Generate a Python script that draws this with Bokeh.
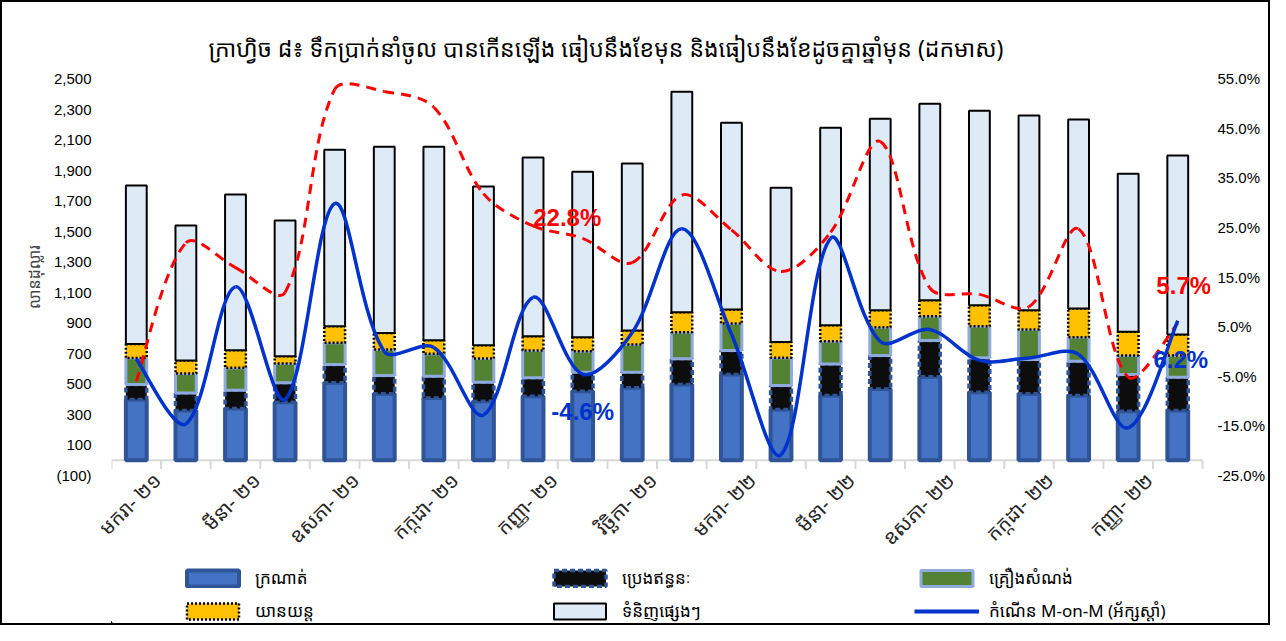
import math
from math import pi
from bokeh.plotting import figure
from bokeh.layouts import column
from bokeh.models import (Range1d, LinearAxis, FixedTicker, CustomJSTickFormatter,
                          Legend, LegendItem, ColumnDataSource, Label)
from bokeh.embed import file_html
from bokeh.resources import INLINE

# ---------------- data ----------------
months = ["មករា- ២១", "កុម្ភៈ- ២១", "មីនា- ២១", "មេសា- ២១", "ឧសភា- ២១", "មិថុនា- ២១",
          "កក្កដា- ២១", "សីហា- ២១", "កញ្ញា- ២១", "តុលា- ២១", "វិច្ឆិកា- ២១", "ធ្នូ- ២១",
          "មករា- ២២", "កុម្ភៈ- ២២", "មីនា- ២២", "មេសា- ២២", "ឧសភា- ២២", "មិថុនា- ២២",
          "កក្កដា- ២២", "សីហា- ២២", "កញ្ញា- ២២", "តុលា- ២២"]

fabric = [397, 325, 339, 380, 507, 435, 408, 387, 419, 452, 474, 496, 561, 332, 424, 467, 546, 445, 435, 424, 321, 325]
fuel = [99, 116, 120, 127, 120, 120, 142, 124, 121, 124, 102, 168, 157, 157, 207, 219, 238, 226, 224, 224, 240, 219]
construction = [174, 127, 146, 126, 142, 170, 147, 155, 178, 138, 182, 174, 177, 182, 148, 185, 159, 207, 197, 157, 125, 142]
vehicles = [92, 85, 115, 48, 109, 109, 89, 87, 94, 91, 91, 131, 92, 104, 105, 111, 105, 137, 126, 188, 155, 137]
others = [1038, 885, 1020, 889, 1156, 1219, 1267, 1039, 1170, 1085, 1094, 1445, 1224, 1010, 1294, 1255, 1287, 1274, 1275, 1238, 1036, 1172]
mom = [-1.5, -14.6, 13.0, -9.7, 29.8, 0.0, 0.8, -12.8, 10.9, -4.6, 3.8, 24.7, 3.5, -20.8, 22.8, 2.0, 4.4, -1.8, -1.3, -0.6, -15.4, 6.2]
yoy = [-6.0, 21.9, 16.9, 11.9, 52.8, 52.4, 49.2, 31.8, 25.3, 22.8, 17.9, 31.5, 24.5, 16.1, 24.0, 42.3, 12.8, 11.5, 9.0, 24.7, -5.2, 5.7]

series_names = ["ក្រណាត់", "ប្រេងឥន្ធនៈ", "គ្រឿងសំណង់", "យានយន្ត", "ទំនិញផ្សេងៗ"]
line_name = "កំណើន M-on-M (អ័ក្សស្តាំ)"
title_text = "ក្រាហ្វិច ៨៖ ទឹកប្រាក់នាំចូល បានកើនឡើង ធៀបនឹងខែមុន និងធៀបនឹងខែដូចគ្នាឆ្នាំមុន (ដកមាស)"
y_title = "លានដុល្លារ"
left_ticks = [-100, 100, 300, 500, 700, 900, 1100, 1300, 1500, 1700, 1900, 2100, 2300, 2500]
right_ticks = [-25, -15, -5, 5, 15, 25, 35, 45, 55]

KH = "Khmer OS, Noto Sans Khmer, Noto Serif Khmer, Khmer OS System, sans-serif"
NUM = "Liberation Sans, Arial, sans-serif"
NUMN = "Liberation Sans Narrow, Arial Narrow, Liberation Sans, sans-serif"

# bar styles: fill, line colour, line width, dash
FILLS = ["#4472C4", "#0D0D0D", "#548235", "#FFC000", "#DEEBF7"]
LINES = ["#2F5597", "#2F5597", "#8FAADC", "#000000", "#000000"]
LWS = [4, 3.5, 3, 2.5, 2]
DASHES = ["solid", "5 3", "solid", "2 2", "solid"]
BLUE = "#0033CC"
RED = "#FF0000"

n = len(months)
x = list(range(n))
stack_keys = ["fabric", "fuel", "construction", "vehicles", "others"]
src = ColumnDataSource(dict(x=x, fabric=fabric, fuel=fuel, construction=construction,
                            vehicles=vehicles, others=others))

W, H1, H2 = 1266, 561, 60
EXTRA = 0.16  # small room right of the last category for its data labels
p = figure(width=W, height=H1, output_backend="svg", toolbar_location=None,
           x_range=Range1d(-0.5, n - 0.5 + EXTRA), y_range=Range1d(-100, 2500),
           min_border_left=109, min_border_right=55, min_border_top=76, min_border_bottom=87)
p.outline_line_color = None
p.xgrid.visible = False
p.ygrid.visible = False
p.background_fill_color = "white"
p.border_fill_color = "white"

# title
p.title.text = title_text
p.title.align = "left"
p.title.offset = 97
p.title.text_font = KH
p.title.text_font_size = "23px"
p.title.text_font_style = "normal"
p.title.text_color = "#000000"
p.title.standoff = 29

# left axis
ya = p.yaxis[0]
ya.ticker = FixedTicker(ticks=left_ticks)
ya.formatter = CustomJSTickFormatter(code="const s = Math.abs(tick).toLocaleString('en-US'); return tick < 0 ? '(' + s + ')' : s;")
ya.axis_line_color = None
ya.major_tick_line_color = None
ya.minor_tick_line_color = None
ya.major_tick_out = 0
ya.major_tick_in = 0
ya.major_label_standoff = 20
ya.major_label_text_font = NUM
ya.major_label_text_font_size = "15px"
ya.major_label_text_color = "#000000"
ya.axis_label = y_title
ya.axis_label_text_font = KH
ya.axis_label_text_font_size = "16px"
ya.axis_label_text_font_style = "normal"
ya.axis_label_standoff = 6

# right axis
p.extra_y_ranges = {"pct": Range1d(-25, 55)}
ra = LinearAxis(y_range_name="pct", ticker=FixedTicker(ticks=right_ticks),
                formatter=CustomJSTickFormatter(code="return tick.toFixed(1) + '%';"))
ra.axis_line_color = None
ra.major_tick_line_color = None
ra.minor_tick_line_color = None
ra.major_tick_out = 0
ra.major_tick_in = 0
ra.major_label_standoff = 7
ra.major_label_text_font = NUM
ra.major_label_text_font_size = "15px"
ra.major_label_text_color = "#000000"
p.add_layout(ra, "right")

# bottom axis (labels every second month, rotated)
shift = 0.42
label_idx = list(range(0, n, 2))
xa = p.xaxis[0]
xa.ticker = FixedTicker(ticks=[i + shift for i in label_idx])
xa.major_label_overrides = {i + shift: months[i] for i in label_idx}
xa.major_label_orientation = pi / 4
xa.axis_line_color = None
xa.major_tick_line_color = None
xa.minor_tick_line_color = None
xa.major_tick_out = 0
xa.major_tick_in = 0
xa.major_label_standoff = 1
xa.major_label_text_font = KH
xa.major_label_text_font_size = "20px"
xa.major_label_text_line_height = 1.0
xa.major_label_text_color = "#262626"

# category axis line at zero with tick marks between categories
p.segment(x0=[-0.5], y0=[0], x1=[n - 0.5], y1=[0], line_color="#D9D9D9", line_width=2)
bx = [i - 0.5 for i in range(n + 1)]
p.segment(x0=bx, y0=[0] * len(bx), x1=bx, y1=[-58] * len(bx), line_color="#D9D9D9", line_width=2)

# stacked bars
bars = p.vbar_stack(stack_keys, x="x", width=0.42, source=src,
                    fill_color=FILLS, line_color=LINES, line_width=LWS, line_dash=DASHES)

# smoothed lines (Bezier through every data point, chord-length weighted tangents)
PX_X = 49.7   # approx pixels per category (only used for tangent weighting)
PX_Y = 4.96   # approx pixels per percent


def bezier_parts(xs, ys):
    m = len(xs)
    sx = [v * PX_X for v in xs]
    sy = [v * PX_Y for v in ys]

    def d(a, b):
        return math.hypot(sx[b] - sx[a], sy[b] - sy[a])

    out = dict(x0=[], y0=[], x1=[], y1=[], cx0=[], cy0=[], cx1=[], cy1=[])
    for i in range(m - 1):
        pm = i - 1 if i > 0 else i
        pp = i + 2 if i + 2 < m else i + 1
        d01, d12, d23 = d(pm, i), d(i, i + 1), d(i + 1, pp)
        f1 = d12 / (d01 + d12) / 3.0 if d01 > 0 else 1 / 6.0
        f2 = d12 / (d12 + d23) / 3.0 if d23 > 0 else 1 / 6.0
        out["x0"].append(xs[i]); out["y0"].append(ys[i])
        out["x1"].append(xs[i + 1]); out["y1"].append(ys[i + 1])
        out["cx0"].append(xs[i] + (xs[i + 1] - xs[pm]) * f1)
        out["cy0"].append(ys[i] + (ys[i + 1] - ys[pm]) * f1)
        out["cx1"].append(xs[i + 1] - (xs[pp] - xs[i]) * f2)
        out["cy1"].append(ys[i + 1] - (ys[pp] - ys[i]) * f2)
    return ColumnDataSource(out)


p.bezier(x0="x0", y0="y0", x1="x1", y1="y1", cx0="cx0", cy0="cy0", cx1="cx1", cy1="cy1",
         source=bezier_parts(x, yoy), y_range_name="pct",
         line_color=RED, line_width=3, line_dash="10 7")
p.bezier(x0="x0", y0="y0", x1="x1", y1="y1", cx0="cx0", cy0="cy0", cx1="cx1", cy1="cy1",
         source=bezier_parts(x, mom), y_range_name="pct",
         line_color=BLUE, line_width=3.5)


# data labels
def add_label(i, vals, dx, dy, color):
    p.add_layout(Label(x=i + dx, y=vals[i] + dy, y_range_name="pct", text=f"{vals[i]:.1f}%",
                       text_color=color, text_font=NUMN, text_font_size="24px",
                       text_font_style="bold", text_align="center", text_baseline="middle"))


add_label(9, yoy, -0.31, 4.2, RED)
add_label(21, yoy, 0.12, 7.6, RED)
add_label(9, mom, 0.0, -7.5, BLUE)
add_label(21, mom, 0.06, -7.8, BLUE)

# ---------------- legend strip (the same series drawn out of view, legend only) ----------------
leg = figure(width=W, height=H2, output_backend="svg", toolbar_location=None,
             x_axis_type=None, y_axis_type=None,
             x_range=Range1d(1000, 1001), y_range=Range1d(100000, 100001), min_border=0)
leg.outline_line_color = None
leg.xgrid.visible = False
leg.ygrid.visible = False
leg.background_fill_color = "white"
leg.border_fill_color = "white"

leg_src = ColumnDataSource(dict(x=x, fabric=fabric, fuel=fuel, construction=construction,
                                vehicles=vehicles, others=others, mom=mom))
proxies = list(leg.vbar_stack(stack_keys, x="x", width=0.42, source=leg_src,
                              fill_color=FILLS, line_color=LINES, line_width=LWS, line_dash=DASHES))
proxies.append(leg.line(x="x", y="mom", source=leg_src, line_color=BLUE, line_width=4))
names = series_names + [line_name]
items = [LegendItem(label=names[k], renderers=[proxies[k]]) for k in range(6)]
legend = Legend(items=items, location=(69, 1), orientation="horizontal", ncols=3,
                glyph_width=65, glyph_height=20, label_standoff=10, label_width=282,
                spacing=10, padding=0, margin=0, border_line_color=None,
                background_fill_alpha=0, label_text_font=KH, label_text_font_size="17px",
                label_text_color="#000000", label_height=20)
leg.add_layout(legend)

layout = column(p, leg, spacing=0, styles={"border": "2px solid #000", "background": "white"})
open("out.html", "w").write(file_html(layout, INLINE))
